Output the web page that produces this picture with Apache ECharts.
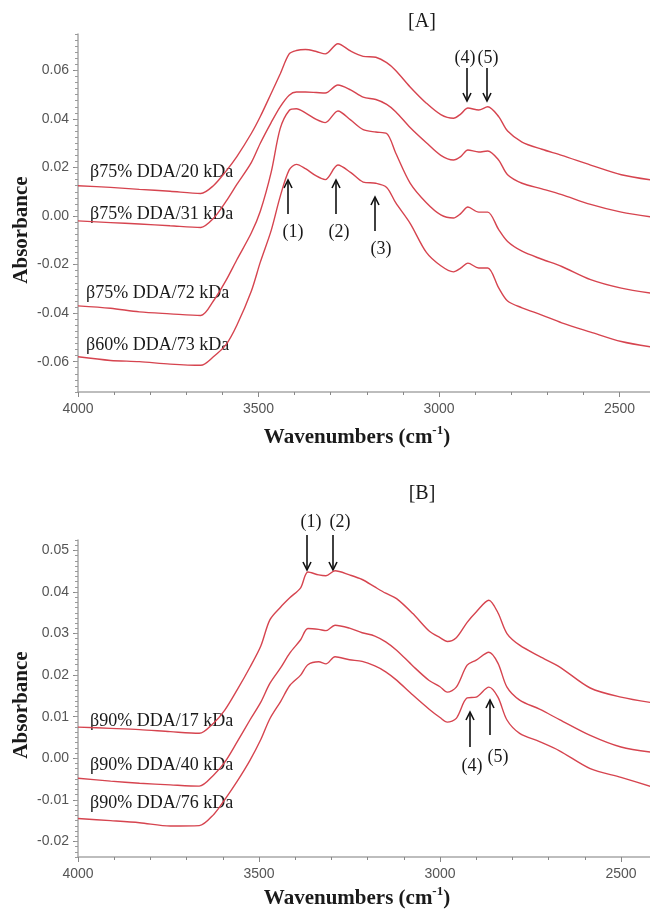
<!DOCTYPE html>
<html>
<head>
<meta charset="utf-8">
<script src="https://cdn.jsdelivr.net/npm/echarts@6/dist/echarts.min.js"></script>
<style>
  html, body { margin: 0; padding: 0; background: #fff; }
  #chart { width: 650px; height: 912px; }
</style>
</head>
<body>
<div id="chart"></div>
<script>
// panel A: wavenumbers (cm-1) and absorbance of each spectrum
const wnA = [4000, 3910, 3830, 3745, 3660, 3625, 3590, 3560, 3520, 3495, 3465, 3440, 3415, 3395, 3370, 3340, 3315, 3280, 3245, 3210,
  3175, 3145, 3120, 3080, 3035, 2995, 2960, 2940, 2920, 2890, 2865, 2835, 2810, 2770, 2715, 2660, 2580, 2495, 2410];
const a20 = [0.0125, 0.0118, 0.0110, 0.0102, 0.0093, 0.0125, 0.0185, 0.0245, 0.0340, 0.0410, 0.0505, 0.0585, 0.0668, 0.0682, 0.0686, 0.0678, 0.0668, 0.0710, 0.0680, 0.0658,
  0.0654, 0.0632, 0.0600, 0.0532, 0.0465, 0.0418, 0.0403, 0.0420, 0.0445, 0.0437, 0.0450, 0.0410, 0.0350, 0.0305, 0.0275, 0.0250, 0.0210, 0.0170, 0.0148];
const a31 = [-0.0020, -0.0027, -0.0033, -0.0040, -0.0047, -0.0010, 0.0060, 0.0130, 0.0220, 0.0300, 0.0385, 0.0450, 0.0498, 0.0511, 0.0511, 0.0509, 0.0507, 0.0540, 0.0520, 0.0490,
  0.0480, 0.0460, 0.0430, 0.0365, 0.0302, 0.0250, 0.0231, 0.0245, 0.0272, 0.0264, 0.0268, 0.0231, 0.0170, 0.0135, 0.0112, 0.0088, 0.0048, 0.0016, -0.0004];
const a72 = [-0.0370, -0.0380, -0.0395, -0.0403, -0.0410, -0.0350, -0.0265, -0.0180, -0.0070, 0.0020, 0.0180, 0.0360, 0.0435, 0.0442, 0.0425, 0.0398, 0.0385, 0.0433, 0.0396, 0.0356,
  0.0346, 0.0340, 0.0260, 0.0136, 0.0055, 0.0005, -0.0008, 0.0010, 0.0037, 0.0016, 0.0016, -0.0055, -0.0105, -0.0145, -0.0178, -0.0208, -0.0262, -0.0297, -0.0318];
const a73 = [-0.0580, -0.0595, -0.0600, -0.0610, -0.0615, -0.0580, -0.0530, -0.0450, -0.0310, -0.0190, -0.0060, 0.0080, 0.0190, 0.0213, 0.0195, 0.0165, 0.0150, 0.0210, 0.0180, 0.0140,
  0.0135, 0.0118, 0.0055, -0.0030, -0.0150, -0.0205, -0.0230, -0.0215, -0.0194, -0.0214, -0.0214, -0.0295, -0.0350, -0.0378, -0.0408, -0.0440, -0.0478, -0.0517, -0.0540];
const namesA = ["β75% DDA/20 kDa", "β75% DDA/31 kDa", "β75% DDA/72 kDa", "β60% DDA/73 kDa"];

// panel B
const wnB = [4000, 3910, 3830, 3745, 3665, 3625, 3595, 3560, 3525, 3495, 3470, 3440, 3415, 3385, 3365, 3335, 3315, 3290, 3250, 3215,
  3180, 3150, 3120, 3075, 3030, 3000, 2980, 2955, 2925, 2900, 2865, 2840, 2815, 2780, 2725, 2670, 2585, 2500, 2410];
const b17 = [0.0075, 0.0072, 0.0069, 0.0064, 0.0060, 0.0085, 0.0115, 0.0165, 0.0219, 0.0270, 0.0333, 0.0364, 0.0386, 0.0410, 0.0448, 0.0441, 0.0439, 0.0451, 0.0441, 0.0430,
  0.0412, 0.0397, 0.0384, 0.0348, 0.0306, 0.0290, 0.0281, 0.0290, 0.0327, 0.0352, 0.0380, 0.0350, 0.0300, 0.0272, 0.0245, 0.0220, 0.0169, 0.0147, 0.0133];
const b40 = [-0.0048, -0.0055, -0.0060, -0.0064, -0.0067, -0.0040, -0.0010, 0.0040, 0.0092, 0.0135, 0.0180, 0.0218, 0.0253, 0.0285, 0.0312, 0.0310, 0.0307, 0.0320, 0.0313, 0.0302,
  0.0294, 0.0280, 0.0260, 0.0222, 0.0187, 0.0172, 0.0159, 0.0171, 0.0224, 0.0236, 0.0255, 0.0229, 0.0171, 0.0140, 0.0118, 0.0093, 0.0055, 0.0027, 0.0014];
const b76 = [-0.0145, -0.0150, -0.0155, -0.0163, -0.0162, -0.0135, -0.0100, -0.0055, -0.0005, 0.0045, 0.0095, 0.0137, 0.0175, 0.0200, 0.0225, 0.0232, 0.0227, 0.0244, 0.0237, 0.0233,
  0.0222, 0.0208, 0.0188, 0.0152, 0.0118, 0.0098, 0.0087, 0.0096, 0.0145, 0.0147, 0.0171, 0.0147, 0.0092, 0.0060, 0.0040, 0.0018, -0.0025, -0.0046, -0.0070];
const namesB = ["β90% DDA/17 kDa", "β90% DDA/40 kDa", "β90% DDA/76 kDa"];

const serif = "'Liberation Serif', 'Times New Roman', serif";
const sans = "'Liberation Sans', Arial, sans-serif";
const red = "#d6444f";
const axisGray = "#a8a8a8";

const pairs = (wn, vals) => wn.map((w, i) => [w, vals[i]]);

function xAx(grid) {
  return {
    gridIndex: grid, type: "value", min: 2000, max: 4000, interval: 500, inverse: true,
    axisLine: { onZero: false, lineStyle: { color: axisGray, width: 1.5 } },
    axisTick: { length: 5, lineStyle: { color: "#888" } },
    minorTick: { show: true, splitNumber: 5, length: 3, lineStyle: { color: "#888" } },
    axisLabel: { margin: 10, color: "#555", fontSize: 14, fontFamily: sans, formatter: v => String(v) },
    splitLine: { show: false }
  };
}
function yMain(grid, min, max) {
  return {
    gridIndex: grid, type: "value", position: "left", min: min, max: max, splitNumber: 7,
    axisLine: { show: true, onZero: false, lineStyle: { color: axisGray, width: 1.5 } },
    axisTick: { show: true, length: 5, lineStyle: { color: "#888" } },
    axisLabel: { margin: 9, color: "#555", fontSize: 14, fontFamily: sans, showMinLabel: false, showMaxLabel: false,
      formatter: v => v.toFixed(2) },
    splitLine: { show: false }
  };
}
function yMinor(grid, min, max, step) {
  return {
    gridIndex: grid, type: "value", position: "left", offset: 0, min: min, max: max, interval: step,
    axisLine: { show: false, onZero: false },
    axisTick: { show: true, length: 3, lineStyle: { color: "#999" } },
    axisLabel: { show: false },
    splitLine: { show: false }
  };
}
function line(name, data, xi, yi) {
  return {
    name: name, type: "line", xAxisIndex: xi, yAxisIndex: yi, data: data,
    showSymbol: false, smooth: 0.3, silent: true,
    lineStyle: { color: red, width: 1.4 }
  };
}

function txt(s, x, y, size, align) {
  return { type: "text", x: x, y: y, silent: true,
    style: { text: s, font: size + "px " + serif, fill: "#1a1a1a", align: align || "left", verticalAlign: "middle" } };
}
function arrow(x, yTail, yTip) {
  const d = yTip > yTail ? 1 : -1;
  return [
    { type: "line", silent: true, shape: { x1: x, y1: yTail, x2: x, y2: yTip - d },
      style: { stroke: "#111", lineWidth: 1.6 } },
    { type: "polyline", silent: true, shape: { points: [[x - 4, yTip - 8 * d], [x, yTip], [x + 4, yTip - 8 * d]] },
      style: { stroke: "#111", lineWidth: 1.6, fill: null } }
  ];
}
function xTitle(y) {
  return { type: "text", x: 357, y: y, silent: true,
    style: { text: "{b|Wavenumbers (cm}{s|-1}{b|)}", align: "center", verticalAlign: "middle",
      rich: { b: { font: "bold 21px " + serif, fill: "#1a1a1a" },
              s: { font: "bold 13px " + serif, fill: "#1a1a1a", padding: [0, 0, 14, 0] } } } };
}
function yTitle(y) {
  return { type: "text", x: 22, y: y, rotation: Math.PI / 2, silent: true,
    style: { text: "Absorbance", font: "bold 21px " + serif, fill: "#1a1a1a", align: "center", verticalAlign: "middle" } };
}

const graphics = [
  txt("[A]", 422, 22, 20, "center"),
  txt(namesA[0], 90, 172, 18), txt(namesA[1], 90, 214, 18),
  txt(namesA[2], 86, 293, 18), txt(namesA[3], 86, 345, 18),
  txt("(4)", 465, 58, 18, "center"), txt("(5)", 488, 58, 18, "center"),
  ...arrow(467, 68, 101), ...arrow(487, 68, 101),
  ...arrow(288, 214, 180), ...arrow(336, 214, 180), ...arrow(375, 231, 197),
  txt("(1)", 293, 232, 18, "center"), txt("(2)", 339, 232, 18, "center"), txt("(3)", 381, 249, 18, "center"),
  xTitle(438), yTitle(230),

  txt("[B]", 422, 494, 20, "center"),
  txt(namesB[0], 90, 721, 18), txt(namesB[1], 90, 765, 18), txt(namesB[2], 90, 803, 18),
  txt("(1)", 311, 522, 18, "center"), txt("(2)", 340, 522, 18, "center"),
  ...arrow(307, 535, 570), ...arrow(333, 535, 570),
  ...arrow(470, 747, 712), ...arrow(490, 735, 700),
  txt("(4)", 472, 766, 18, "center"), txt("(5)", 498, 757, 18, "center"),
  xTitle(899), yTitle(705)
];

const option = {
  animation: false,
  backgroundColor: "#fff",
  // plot area is wider than the page: the 2000-2400 part runs off the right edge, as in the cropped figure
  grid: [
    { left: 78, top: 34, width: 722, height: 358, outerBoundsMode: "none", containLabel: false },
    { left: 78, top: 540, width: 724, height: 317, outerBoundsMode: "none", containLabel: false }
  ],
  xAxis: [xAx(0), xAx(1)],
  yAxis: [
    yMain(0, -0.0725, 0.075), yMinor(0, -0.0725, 0.075, 0.0025),
    yMain(1, -0.02375, 0.0525), yMinor(1, -0.02375, 0.0525, 0.00125)
  ],
  series: [
    line(namesA[0], pairs(wnA, a20), 0, 0),
    line(namesA[1], pairs(wnA, a31), 0, 0),
    line(namesA[2], pairs(wnA, a72), 0, 0),
    line(namesA[3], pairs(wnA, a73), 0, 0),
    line(namesB[0], pairs(wnB, b17), 1, 2),
    line(namesB[1], pairs(wnB, b40), 1, 2),
    line(namesB[2], pairs(wnB, b76), 1, 2)
  ],
  graphic: graphics
};

const myChart = echarts.init(document.getElementById("chart"));
myChart.setOption(option);
window.addEventListener("resize", () => myChart.resize(), false);
</script>
</body>
</html>
